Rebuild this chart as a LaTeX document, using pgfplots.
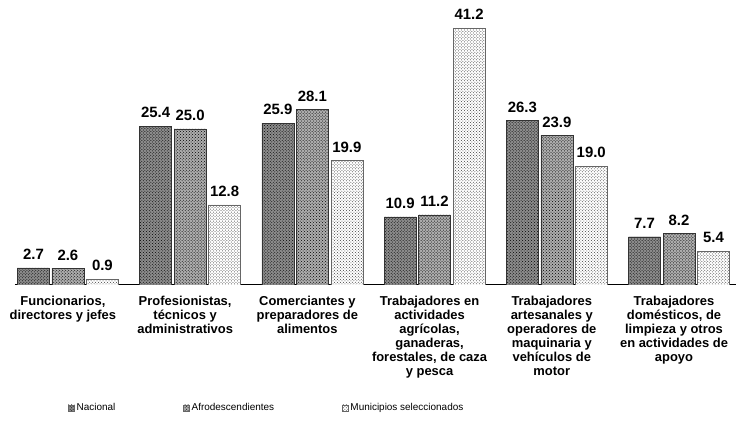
\documentclass[border=0pt]{standalone}
\usepackage{fontspec}
\setmainfont{Liberation Sans}
\usepackage{pgfplots}
\pgfplotsset{compat=1.18}
\usetikzlibrary{patterns}

\pgfplotstableread{
x nac afro mun
0 2.7 2.6 0.9
1 25.4 25.0 12.8
2 25.9 28.1 19.9
3 10.9 11.2 41.2
4 26.3 23.9 19.0
5 7.7 8.2 5.4
}\datos

\begin{document}
\begin{tikzpicture}
\path (0,0) rectangle (737bp,426bp);
\begin{axis}[
  at={(15bp,141bp)}, anchor=south west,
  scale only axis, width=722bp, height=281bp,
  ybar=2.5bp, bar width=32bp,
  xmin=-0.433, xmax=5.47,
  ymin=0, ymax=45,
  axis x line*=bottom, axis y line=none,
  x axis line style={line width=1.1pt},
  xtick=data,
  xtick style={draw=none},
  xticklabels={
    {Funcionarios,\\directores y jefes},
    {Profesionistas,\\técnicos y\\administrativos},
    {Comerciantes y\\preparadores de\\alimentos},
    {Trabajadores en\\actividades\\agrícolas,\\ganaderas,\\forestales, de caza\\y pesca},
    {Trabajadores\\artesanales y\\operadores de\\maquinaria y\\vehículos de\\motor},
    {Trabajadores\\domésticos, de\\limpieza y otros\\en actividades de\\apoyo}},
  xticklabel style={align=center, font=\fontsize{13}{14}\selectfont\bfseries,
    anchor=north, inner sep=0pt, yshift=-7bp, xshift=-5bp},
  nodes near coords={\pgfmathprintnumber[fixed,fixed zerofill,precision=1,assume math mode=true]{\pgfplotspointmeta}},
  every node near coord/.append style={font=\fontsize{15}{15}\selectfont\bfseries,
    anchor=south, inner sep=0pt, yshift=8bp},
  legend columns=3,
  legend style={draw=none, at={(0.349,-0.438)}, anchor=center,
    font=\fontsize{10}{11}\selectfont,
    /tikz/every even column/.append style={column sep=66bp}},
  legend image code/.code={\draw[#1, draw=black!60] (0bp,-3bp) rectangle (6bp,3bp);},
]
\addplot[draw=black!80, fill=black!45,
  postaction={pattern=crosshatch dots, pattern color=black}] table[x=x,y=nac]{\datos};
\addlegendentry{Nacional}
\addplot[draw=black!80, fill=black!32,
  postaction={pattern=crosshatch dots, pattern color=black}] table[x=x,y=afro]{\datos};
\addlegendentry{Afrodescendientes}
\addplot[draw=black!60, fill=white,
  postaction={pattern=crosshatch dots, pattern color=black!75}] table[x=x,y=mun]{\datos};
\addlegendentry{Municipios seleccionados}
\end{axis}
\end{tikzpicture}
\end{document}
